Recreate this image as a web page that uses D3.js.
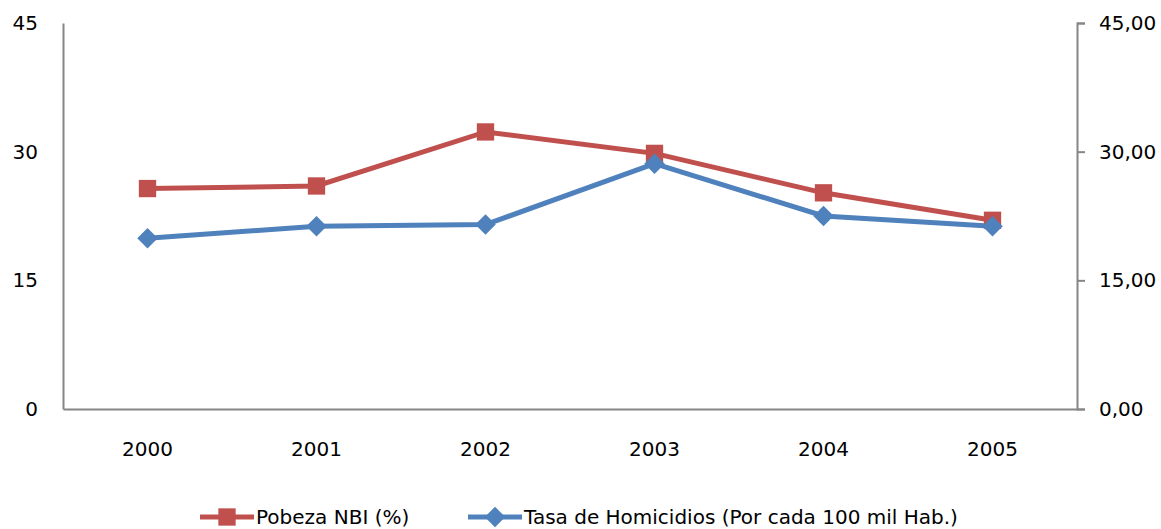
<!DOCTYPE html>
<html>
<head>
<meta charset="utf-8">
<script src="https://cdn.jsdelivr.net/npm/d3@7"></script>
<style>
  body { margin: 0; background: #fff; }
  text { font-family: "DejaVu Sans", Verdana, sans-serif; fill: #000; }
</style>
</head>
<body>
<div id="chart"></div>
<script>
// Data
const years = ["2000", "2001", "2002", "2003", "2004", "2005"];
const pobreza = [25.7, 26.0, 32.3, 29.8, 25.2, 22.0];
const homicidios = [19.9, 21.3, 21.5, 28.6, 22.5, 21.3];
const leftTicks = [0, 15, 30, 45];
const rightTicks = [0, 15, 30, 45];

const W = 1161, H = 529;
const margin = { top: 23, right: 84, bottom: 120, left: 63 };
const width = W - margin.left - margin.right;
const height = H - margin.top - margin.bottom;

const svg = d3.select("#chart").append("svg")
  .attr("width", W)
  .attr("height", H);

const g = svg.append("g")
  .attr("transform", `translate(${margin.left}, ${margin.top})`);

const x = d3.scaleBand().domain(years).range([0, width]);
const yL = d3.scaleLinear().domain([0, 45]).range([height, 0]);
const yR = d3.scaleLinear().domain([0, 45]).range([height, 0]);
const cx = d => x(d) + x.bandwidth() / 2;

// Axes
const axisColor = "#868686";

const left = g.append("g")
  .call(d3.axisLeft(yL).tickValues(leftTicks).tickSize(0).tickPadding(25).tickFormat(d3.format("d")));
const right = g.append("g")
  .attr("transform", `translate(${width},0)`)
  .call(d3.axisRight(yR).tickValues(rightTicks).tickSize(8).tickPadding(14)
    .tickFormat(d => d3.format(".2f")(d).replace(".", ",")));
const bottom = g.append("g")
  .attr("transform", `translate(0,${height})`)
  .call(d3.axisBottom(x).tickSize(0).tickPadding(33));

[left, right, bottom].forEach(a => {
  a.selectAll("path.domain").attr("stroke", axisColor).attr("stroke-width", 2);
  a.selectAll("line").attr("stroke", axisColor).attr("stroke-width", 2);
  a.selectAll("text").style("font-size", "20px").style("font-family", "DejaVu Sans, Verdana, sans-serif");
});

// Lines
const red = "#C0504D", blue = "#4F81BD";

const lineP = d3.line().x((d, i) => cx(years[i])).y(d => yL(d));
const lineH = d3.line().x((d, i) => cx(years[i])).y(d => yR(d));

g.append("path").datum(pobreza)
  .attr("d", lineP).attr("fill", "none").attr("stroke", red).attr("stroke-width", 5);

g.append("path").datum(homicidios)
  .attr("d", lineH).attr("fill", "none").attr("stroke", blue).attr("stroke-width", 5);

const sq = d3.symbol().type(d3.symbolSquare).size(300);
const dia = d3.symbol().type(d3.symbolSquare).size(210); // rotated below

g.selectAll(".mp").data(pobreza).join("path")
  .attr("class", "mp")
  .attr("d", sq)
  .attr("transform", (d, i) => `translate(${cx(years[i])},${yL(d)})`)
  .attr("fill", red);

g.selectAll(".mh").data(homicidios).join("path")
  .attr("class", "mh")
  .attr("d", dia)
  .attr("transform", (d, i) => `translate(${cx(years[i])},${yR(d)}) rotate(45)`)
  .attr("fill", blue);

// Legend
const legend = svg.append("g").attr("transform", "translate(0,517)");
const items = [
  { label: "Pobeza NBI (%)", color: red, sym: sq, x: 200, rot: 0 },
  { label: "Tasa de Homicidios (Por cada 100 mil Hab.)", color: blue, sym: dia, x: 468, rot: 45 }
];
items.forEach(it => {
  const li = legend.append("g").attr("transform", `translate(${it.x},0)`);
  li.append("line").attr("x1", 0).attr("x2", 54).attr("y1", 0).attr("y2", 0)
    .attr("stroke", it.color).attr("stroke-width", 5);
  li.append("path").attr("d", it.sym).attr("transform", `translate(27,0) rotate(${it.rot})`).attr("fill", it.color);
  li.append("text").attr("x", 56).attr("y", 0).attr("dy", "0.35em")
    .style("font-size", "20px")
    .text(it.label);
});
</script>
</body>
</html>
